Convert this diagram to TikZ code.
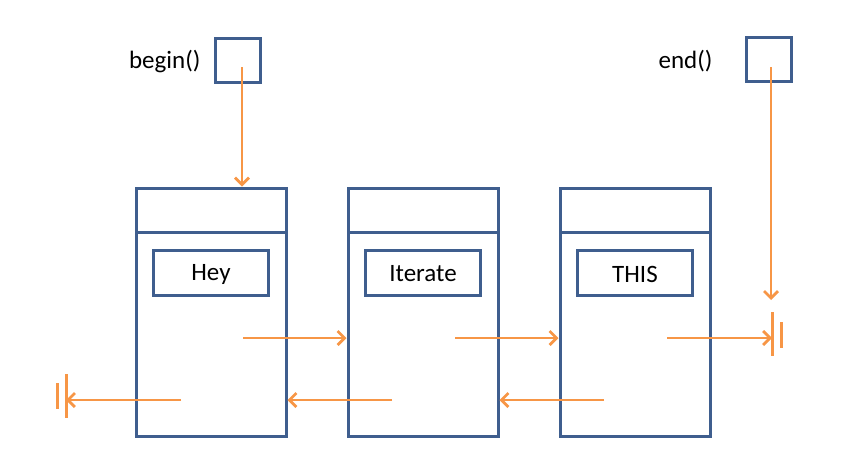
\documentclass[tikz,border=0pt]{standalone}
\usepackage{fontspec}
\setmainfont{Carlito}
\usetikzlibrary{arrows.meta}
\definecolor{frame}{HTML}{3F5E8E}
\definecolor{link}{HTML}{F79646}
\begin{document}
\begin{tikzpicture}[x=1pt,y=-1pt,
  every node/.style={font=\fontsize{25}{30}\selectfont},
  cell/.style={draw=frame,line width=3pt,minimum width=150pt,minimum height=248pt,inner sep=0pt},
  valbox/.style={draw=frame,line width=3pt,minimum width=115pt,minimum height=45pt,inner sep=0pt},
  itbox/.style={draw=frame,line width=3pt,minimum width=45pt,minimum height=44pt,inner sep=0pt},
  ptr/.style={draw=link,line width=2.8pt,-{Straight Barb[length=7pt,width=14pt,line width=2.8pt]}},
  bar/.style={draw=link,line width=3pt}]
\useasboundingbox (0,0) rectangle (851,467);

% list cells
\foreach \n/\x/\t in {a/211/Hey,b/423/Iterate,c/635/THIS}{
  \node[cell] (\n) at (\x,312) {};
  \draw[frame,line width=3pt] (\x-75,232) -- (\x+75,232);
  \node[valbox] (\n v) at (\x,272.5) {};
  \node (\n t) at (\x,274) {\t};
}

% iterators
\node[itbox] (beg) at (238,60) {};
\node[anchor=east] (begl) at (204,61) {begin()};
\node[itbox] (end) at (768.5,59.5) {};
\node[anchor=east] (endl) at (716,61) {end()};

% link endpoints inside the cells
\coordinate (a1) at (243,338); \coordinate (a2) at (181,400);
\coordinate (b1) at (455,338); \coordinate (b2) at (392,400);
\coordinate (c1) at (667,338); \coordinate (c2) at (604,400);
\coordinate (nilR) at (772,338); \coordinate (nilL) at (66,400);
\coordinate (begS) at (242,67); \coordinate (endS) at (771,67);
\coordinate (endT) at (771,300);

% terminators
\draw[bar] (772,312) -- (772,356);
\draw[bar] (781,322) -- (781,348);
\draw[bar] (66,374) -- (66,418);
\draw[bar] (57,383) -- (57,409);

% forward links
\draw[ptr] (a1) -- (a1 -| b.west);
\draw[ptr] (b1) -- (b1 -| c.west);
\draw[ptr] (c1) -- (nilR);
% backward links
\draw[ptr] (c2) -- (c2 -| b.east);
\draw[ptr] (b2) -- (b2 -| a.east);
\draw[ptr] (a2) -- (nilL);

% iterator targets
\draw[ptr] (begS) -- (begS |- a.north);
\draw[ptr] (endS) -- (endT);
\end{tikzpicture}
\end{document}
